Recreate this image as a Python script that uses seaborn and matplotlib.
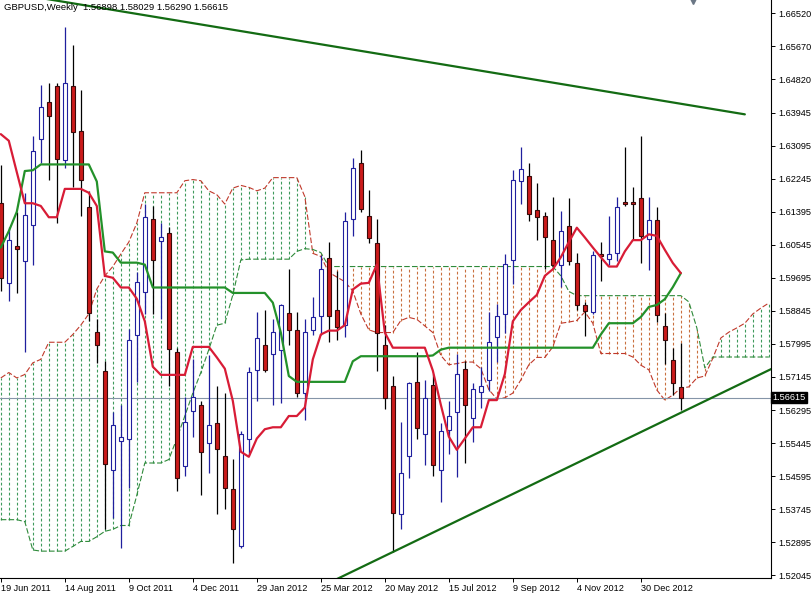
import numpy as np
import pandas as pd
import matplotlib
matplotlib.use("Agg")
import matplotlib.pyplot as plt
import seaborn as sns

chart_title = "GBPUSD,Weekly  1.56898 1.58029 1.56290 1.56615"
last_price = 1.56615

# weekly OHLC, bar 0 = week of 19 Jun 2011
open_ = [1.61626, 1.59571, 1.60525, 1.60136, 1.61061, 1.63281, 1.64226, 1.64635, 1.62746, 1.64635,
         1.63476, 1.61519, 1.58315, 1.57312, 1.54751, 1.55491, 1.55559, 1.58237, 1.59328, 1.61207,
         1.60652, 1.60866, 1.57799, 1.54858, 1.56260, 1.56416, 1.55442, 1.55968, 1.55121, 1.54264,
         1.52784, 1.55559, 1.57331, 1.57964, 1.57750, 1.57847, 1.58802, 1.58364, 1.56728, 1.58364,
         1.58724, 1.60214, 1.58870, 1.58481, 1.61207, 1.62668, 1.61304, 1.60603, 1.57974, 1.56922,
         1.53611, 1.55121, 1.57020, 1.55676, 1.56942, 1.54760, 1.55773, 1.56241, 1.57360, 1.56095,
         1.56747, 1.57069, 1.58188, 1.58772, 1.60155, 1.62200, 1.62327, 1.61451, 1.61304, 1.60671,
         1.60038, 1.61032, 1.60087, 1.58987, 1.58821, 1.60311, 1.60185, 1.60350, 1.61645, 1.61645,
         1.61743, 1.60700, 1.61188, 1.58459, 1.57583, 1.56898]
high = [1.62599, 1.61012, 1.61402, 1.61889, 1.63349, 1.64664, 1.64713, 1.64713, 1.66154, 1.65706,
        1.64547, 1.61937, 1.58626, 1.57555, 1.56241, 1.56436, 1.58383, 1.59844, 1.61597, 1.61548,
        1.61110, 1.61012, 1.57896, 1.56630, 1.57604, 1.56533, 1.57701, 1.56922, 1.56728, 1.55023,
        1.55754, 1.57409, 1.58821, 1.58870, 1.58626, 1.59016, 1.59922, 1.58821, 1.58626, 1.59211,
        1.60282, 1.60623, 1.59863, 1.61382, 1.62785, 1.62979, 1.61966, 1.61227, 1.58481, 1.57166,
        1.55997, 1.57020, 1.57779, 1.57069, 1.57214, 1.55949, 1.56533, 1.57750, 1.57555, 1.57000,
        1.57409, 1.58821, 1.59016, 1.60311, 1.62473, 1.63077, 1.62668, 1.62132, 1.61402, 1.61772,
        1.61421, 1.61743, 1.60350, 1.59065, 1.60379, 1.60623, 1.61304, 1.61772, 1.63057, 1.62035,
        1.63349, 1.61772, 1.61519, 1.58800, 1.57900, 1.58029]
low = [1.59357, 1.59113, 1.59308, 1.57799, 1.60038, 1.62668, 1.62229, 1.61110, 1.62522, 1.62035,
       1.61285, 1.58578, 1.57506, 1.53222, 1.53514, 1.52735, 1.54293, 1.57020, 1.58773, 1.58773,
       1.58626, 1.56922, 1.54196, 1.54585, 1.55608, 1.54099, 1.54683, 1.53611, 1.53757, 1.52346,
       1.52735, 1.55169, 1.56533, 1.57263, 1.56436, 1.56484, 1.57974, 1.56630, 1.56046, 1.58237,
       1.58237, 1.58042, 1.58091, 1.58188, 1.60769, 1.61382, 1.60603, 1.57312, 1.56319, 1.52637,
       1.53222, 1.54537, 1.55559, 1.54877, 1.54605, 1.53923, 1.55169, 1.54566, 1.54926, 1.55462,
       1.56339, 1.56777, 1.57526, 1.58286, 1.59552, 1.61597, 1.61158, 1.60671, 1.59922, 1.59922,
       1.59454, 1.60038, 1.58870, 1.58208, 1.58772, 1.59630, 1.60038, 1.60136, 1.61548, 1.60671,
       1.60087, 1.59892, 1.58558, 1.57480, 1.56681, 1.56290]
close = [1.59698, 1.60671, 1.60447, 1.61324, 1.62960, 1.64099, 1.63866, 1.62765, 1.64713, 1.63466,
         1.62229, 1.58792, 1.57974, 1.54897, 1.55900, 1.55588, 1.58091, 1.59600, 1.61275, 1.60155,
         1.60749, 1.57877, 1.54537, 1.55997, 1.56630, 1.55218, 1.55900, 1.55286, 1.54293, 1.53241,
         1.55676, 1.57263, 1.58159, 1.57331, 1.58315, 1.58987, 1.58354, 1.56728, 1.58315, 1.58694,
         1.59922, 1.58724, 1.58432, 1.61158, 1.62522, 1.61480, 1.60720, 1.58286, 1.56611, 1.53631,
         1.54683, 1.57000, 1.55832, 1.56611, 1.54877, 1.55754, 1.56143, 1.57214, 1.56436, 1.56825,
         1.56922, 1.58042, 1.58724, 1.60058, 1.62229, 1.62492, 1.61334, 1.61255, 1.60749, 1.60038,
         1.60915, 1.60136, 1.58987, 1.58851, 1.60282, 1.60272, 1.60311, 1.61519, 1.61597, 1.61597,
         1.60769, 1.61188, 1.58742, 1.58098, 1.56983, 1.56615]

# ichimoku lines
tenkan = [1.6340, 1.6323, 1.6242, 1.6162, 1.6162, 1.6155, 1.6126, 1.6126, 1.6199, 1.6199,
          1.6199, 1.6189, 1.6155, 1.5975, 1.5970, 1.5945, 1.5945, 1.5916, 1.5858, 1.5741,
          1.5720, 1.5720, 1.5720, 1.5720, 1.5792, 1.5792, 1.5792, 1.5765, 1.5736, 1.5653,
          1.5522, 1.5509, 1.5556, 1.5580, 1.5585, 1.5585, 1.5614, 1.5614, 1.5636, 1.5760,
          1.5824, 1.5834, 1.5834, 1.5848, 1.5940, 1.5955, 1.5957, 1.6004, 1.5829, 1.5790,
          1.5790, 1.5790, 1.5790, 1.5790, 1.5731, 1.5643, 1.5561, 1.5527, 1.5556, 1.5585,
          1.5585, 1.5655, 1.5655, 1.5722, 1.5858, 1.5887, 1.5907, 1.5926, 1.5975, 1.5992,
          1.6023, 1.6062, 1.6099, 1.6074, 1.6048, 1.6023, 1.5999, 1.5999, 1.6038, 1.6067,
          1.6067, 1.6082, 1.6078, 1.6042, 1.6008, 1.5982]
kijun = [1.6048, 1.6090, 1.6140, 1.6245, 1.6247, 1.6262, 1.6262, 1.6262, 1.6262, 1.6262,
         1.6262, 1.6262, 1.6218, 1.6038, 1.6035, 1.6009, 1.6009, 1.6009, 1.6004, 1.5945,
         1.5945, 1.5945, 1.5945, 1.5945, 1.5945, 1.5945, 1.5945, 1.5945, 1.5945, 1.5931,
         1.5931, 1.5931, 1.5931, 1.5931, 1.5906, 1.5829, 1.5717, 1.5702, 1.5702, 1.5702,
         1.5702, 1.5702, 1.5702, 1.5702, 1.5755, 1.5768, 1.5768, 1.5768, 1.5768, 1.5768,
         1.5768, 1.5768, 1.5768, 1.5768, 1.5770, 1.5785, 1.5790, 1.5790, 1.5790, 1.5790,
         1.5790, 1.5790, 1.5790, 1.5790, 1.5790, 1.5790, 1.5790, 1.5790, 1.5790, 1.5790,
         1.5790, 1.5790, 1.5790, 1.5790, 1.5790, 1.5824, 1.5853, 1.5853, 1.5853, 1.5853,
         1.5869, 1.5895, 1.5900, 1.5915, 1.5946, 1.5982]
span_red = [1.5712, 1.5726, 1.5712, 1.5721, 1.5751, 1.5760, 1.5804, 1.5804, 1.5804, 1.5824,
            1.5848, 1.5877, 1.5941, 1.5975, 1.5999, 1.6031, 1.6062, 1.6111, 1.6189, 1.6189,
            1.6189, 1.6189, 1.6189, 1.6220, 1.6223, 1.6220, 1.6194, 1.6184, 1.6160, 1.6201,
            1.6208, 1.6203, 1.6194, 1.6201, 1.6228, 1.6228, 1.6228, 1.6228, 1.6179, 1.6033,
            1.6025, 1.5984, 1.5972, 1.5960, 1.5936, 1.5877, 1.5836, 1.5829, 1.5829, 1.5829,
            1.5860, 1.5868, 1.5863, 1.5846, 1.5829, 1.5770, 1.5746, 1.5749, 1.5753, 1.5753,
            1.5736, 1.5682, 1.5658, 1.5661, 1.5673, 1.5707, 1.5746, 1.5765, 1.5765, 1.5792,
            1.5853, 1.5856, 1.5860, 1.5882, 1.5853, 1.5775, 1.5775, 1.5775, 1.5775, 1.5766,
            1.5745, 1.5733, 1.5681, 1.5655, 1.5668, 1.5686, 1.5689, 1.5712, 1.5717, 1.5763,
            1.5815, 1.5830, 1.5841, 1.5853, 1.5877, 1.5892, 1.5905]
span_green = [1.5347, 1.5347, 1.5347, 1.5342, 1.5269, 1.5266, 1.5266, 1.5266, 1.5266, 1.5278,
              1.5291, 1.5291, 1.5303, 1.5317, 1.5322, 1.5332, 1.5332, 1.5410, 1.5493, 1.5493,
              1.5493, 1.5502, 1.5556, 1.5614, 1.5673, 1.5726, 1.5785, 1.5848, 1.5853, 1.5926,
              1.6016, 1.6018, 1.6018, 1.6018, 1.6018, 1.6018, 1.6018, 1.6038, 1.6045, 1.6043,
              1.6035, 1.5999, 1.5999, 1.5999, 1.5999, 1.5999, 1.5999, 1.5999, 1.5999, 1.5999,
              1.5999, 1.5999, 1.5999, 1.5999, 1.5999, 1.5999, 1.5999, 1.5999, 1.5999, 1.5999,
              1.5999, 1.5999, 1.5999, 1.5999, 1.5999, 1.5999, 1.5999, 1.5999, 1.5999, 1.5999,
              1.5975, 1.5935, 1.5924, 1.5924, 1.5924, 1.5924, 1.5924, 1.5924, 1.5924, 1.5924,
              1.5924, 1.5924, 1.5924, 1.5924, 1.5924, 1.5924, 1.5908, 1.5841, 1.5738, 1.5766,
              1.5766, 1.5766, 1.5766, 1.5766, 1.5766, 1.5766, 1.5766]

# trend lines (bar, price) anchors
upper_trend_bars = [4, 93]
upper_trend_prices = [1.6694, 1.6391]
lower_trend_bars = [42, 97]
lower_trend_prices = [1.5194, 1.5742]

date_bars = [0, 8, 16, 24, 32, 40, 48, 56, 64, 72, 80]
date_labels = ["19 Jun 2011", "14 Aug 2011", "9 Oct 2011", "4 Dec 2011", "29 Jan 2012",
               "25 Mar 2012", "20 May 2012", "15 Jul 2012", "9 Sep 2012", "4 Nov 2012",
               "30 Dec 2012"]
price_labels = ["1.66520", "1.65670", "1.64820", "1.63945", "1.63095", "1.62245", "1.61395",
                "1.60545", "1.59695", "1.58845", "1.57995", "1.57145", "1.56295", "1.55445",
                "1.54595", "1.53745", "1.52895", "1.52045"]

sns.set_theme(style="white")
plt.rcParams["font.family"] = ["Liberation Sans", "DejaVu Sans"]

candles = pd.DataFrame({"open": open_, "high": high, "low": low, "close": close})
candles["bar"] = np.arange(len(candles))
bull = candles["close"] >= candles["open"]

fig = plt.figure(figsize=(8.11, 5.94), dpi=100)
ax = fig.add_axes([0, 16 / 594, 771 / 811, 578 / 594])

# kumo hatch
cloud_x = np.arange(len(span_red))
red_arr = np.array(span_red)
green_arr = np.array(span_green)
hatch_colors = np.where(red_arr > green_arr, "#3f9a5c", "#c9703f")
ax.vlines(cloud_x, np.minimum(red_arr, green_arr), np.maximum(red_arr, green_arr),
          colors=hatch_colors, linestyles=(0, (2.5, 2.0)), linewidth=0.8, zorder=1)
ax.plot(cloud_x, red_arr, color="#c0392b", lw=0.8, ls=(0, (5, 2)), zorder=2)
ax.plot(cloud_x, green_arr, color="#2f8a3a", lw=0.8, ls=(0, (5, 2)), zorder=2)

ax.axhline(last_price, color="#8595a8", lw=0.8, zorder=2.5)

# candles
for is_bull, wick_c, face_c, edge_c in [(True, "#1f1f9e", "white", "#1f1f9e"),
                                        (False, "black", "#cc1a1a", "#3a0a0a")]:
    sub = candles[bull == is_bull]
    ax.vlines(sub["bar"], sub["low"], sub["high"], colors=wick_c, linewidth=0.9, zorder=3)
    body_lo = np.minimum(sub["open"], sub["close"])
    body_h = np.maximum(np.abs(sub["close"] - sub["open"]), 0.00012)
    ax.bar(sub["bar"], body_h, bottom=body_lo, width=0.55, color=face_c,
           edgecolor=edge_c, linewidth=0.8, zorder=4)

lines_df = pd.DataFrame({"bar": candles["bar"], "tenkan": tenkan, "kijun": kijun})
sns.lineplot(data=lines_df, x="bar", y="kijun", ax=ax, color="#23912a", linewidth=1.6, zorder=5)
sns.lineplot(data=lines_df, x="bar", y="tenkan", ax=ax, color="#d81c36", linewidth=1.6, zorder=5)

ax.plot(upper_trend_bars, upper_trend_prices, color="#136b13", lw=1.6, zorder=6)
ax.plot(lower_trend_bars, lower_trend_prices, color="#136b13", lw=1.6, zorder=6)

# shift marker at the top
ax.plot([86.5], [1.66855], marker="v", ms=6, color="#6b7785", clip_on=False, zorder=7)

ax.set_xlim(-0.1, 96.27)
ax.set_ylim(1.51968, 1.66855)
ax.set_xlabel("")
ax.set_ylabel("")

ax.yaxis.tick_right()
ax.set_yticks([float(s) for s in price_labels], price_labels)
ax.set_xticks(date_bars, date_labels)
for lbl in ax.get_xticklabels():
    lbl.set_horizontalalignment("left")
ax.tick_params(axis="y", right=True, left=False, direction="out", length=3, width=0.7,
               pad=2.5, labelsize=6.6, colors="black")
ax.tick_params(axis="x", bottom=True, direction="out", length=3, width=0.7,
               pad=1.5, labelsize=6.6, colors="black")
for side in ["left", "top"]:
    ax.spines[side].set_visible(False)
for side in ["right", "bottom"]:
    ax.spines[side].set_color("black")
    ax.spines[side].set_linewidth(0.8)

ax.text(1.002, last_price, "1.56615", transform=ax.get_yaxis_transform(), ha="left",
        va="center", color="white", fontsize=6.6, clip_on=False, zorder=10,
        bbox=dict(boxstyle="square,pad=0.15", fc="black", ec="black"))

fig.text(4 / 811, 1 - 8 / 594, chart_title, ha="left", va="center", fontsize=6.8, color="black")

fig.savefig("out.png", dpi=100, facecolor="white")
